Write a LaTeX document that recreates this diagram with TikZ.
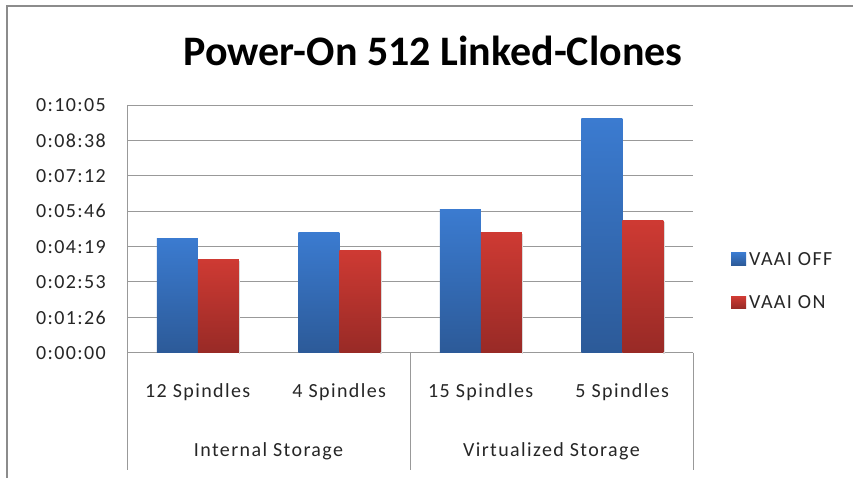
\documentclass[tikz,border=0pt]{standalone}
\usepackage{fontspec}
\setmainfont{Carlito}
\newfontfamily\axisfont[LetterSpace=7]{Carlito}
\begin{document}
\begin{tikzpicture}[x=1pt,y=-1pt,
  frame/.style={draw=black!45,line width=1.2pt},
  grid line/.style={draw=black!40,line width=1pt},
  tick label/.style={font=\axisfont\fontsize{20}{24}\selectfont,text=black!85,inner sep=0pt},
  blue bar/.style={top color=blue1,bottom color=blue2,draw=none},
  red bar/.style={top color=red1,bottom color=red2,draw=none},
]
\definecolor{blue1}{HTML}{3B7BD0}
\definecolor{blue2}{HTML}{2C5A98}
\definecolor{red1}{HTML}{CE3A33}
\definecolor{red2}{HTML}{982A26}
\useasboundingbox (0,0) rectangle (853,478);
\fill[white] (0,0) rectangle (853,478);

% chart frame (its right and bottom edges lie outside the picture)
\draw[frame] (860,6) -- (7,6) -- (7,485);

% title
\node[font=\bfseries\fontsize{42}{48}\selectfont,inner sep=0pt] (title) at (433,51) {Power-On 512 Linked-Clones};

% horizontal grid lines and value labels
\foreach \i/\lab in {0/0:00:00,1/0:01:26,2/0:02:53,3/0:04:19,4/0:05:46,5/0:07:12,6/0:08:38,7/0:10:05}{
  \pgfmathsetmacro{\yy}{352.7-35.37*\i}
  \draw[grid line] (127,\yy) -- (693,\yy);
  \node[tick label,anchor=east] (v\i) at (106,\yy) {\lab};
}
\draw[grid line] (127,105) -- (127,352.7);

% category separators below the axis
\foreach \xx in {127,410,693}{
  \draw[grid line] (\xx,352.7) -- (\xx,470);
}

% bars: blue = VAAI OFF, red = VAAI ON, with a faint drop shadow
\foreach \c/\hb/\hr in {0/238.3/259.7,1/232.7/250.7,2/210/232.7,3/119/220.7}{
  \pgfmathsetmacro{\cx}{197.75+141.5*\c}
  \fill[black!15] (\cx+41,\hr+1.5) rectangle (\cx+42.5,354);
  \shade[blue bar] (\cx-41,\hb) rectangle (\cx,352.7);
  \shade[red bar] (\cx,\hr) rectangle (\cx+41,352.7);
}

% category labels
\node[tick label] (c1) at (197.75,392) {12 Spindles};
\node[tick label] (c2) at (339.25,392) {4 Spindles};
\node[tick label] (c3) at (480.75,392) {15 Spindles};
\node[tick label] (c4) at (622.25,392) {5 Spindles};
\node[tick label] (g1) at (268.5,451) {Internal Storage};
\node[tick label] (g2) at (551.5,451) {Virtualized Storage};

% legend
\shade[blue bar] (731,252.7) rectangle (746,265.3);
\node[tick label,anchor=west] (lOff) at (749,259) {VAAI OFF};
\shade[red bar] (731,296.7) rectangle (746,308.3);
\node[tick label,anchor=west] (lOn) at (749,302.5) {VAAI ON};
\end{tikzpicture}
\end{document}
